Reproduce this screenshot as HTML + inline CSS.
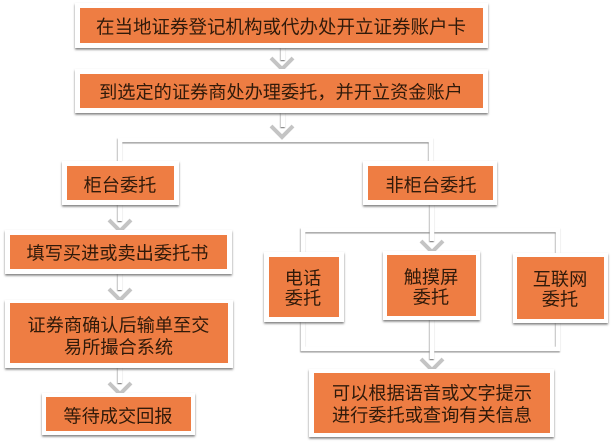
<!DOCTYPE html>
<html><head><meta charset="utf-8"><style>
html,body{margin:0;padding:0;background:#fff;width:614px;height:446px;overflow:hidden}
svg{display:block;position:absolute;left:0;top:0;filter:blur(.3px)}
.b{fill:#ee7d43}
.o{fill:#fff;filter:url(#s)}
text{font-family:"Liberation Sans","WenQuanYi Zen Hei","Noto Sans CJK SC",sans-serif;font-size:18.2px;fill:#301a0a;text-anchor:middle}
</style></head><body>
<svg width="614" height="446" viewBox="0 0 614 446" xmlns="http://www.w3.org/2000/svg">
<defs>
<filter id="s" x="-10%" y="-20%" width="120%" height="140%"><feDropShadow dx="0" dy="1.6" stdDeviation="1.1" flood-color="#666" flood-opacity=".85"/></filter>
<filter id="s2" x="0" y="0" width="614" height="446" filterUnits="userSpaceOnUse"><feDropShadow dx="-.4" dy="1" stdDeviation=".6" flood-color="#555" flood-opacity=".85"/></filter>
</defs>

<!-- connectors -->
<g fill="none" stroke="#fff" stroke-width="4.5" filter="url(#s2)">
<path d="M120 163V140H431V163"/>
<path d="M303 254V230H558V254"/>
<path d="M303 320V349H558V320"/>
</g>
<g fill="none" stroke="#fff" stroke-width="4.5" filter="url(#s2)">
<path d="M283 46V60M283 110V127M120 203V221M120 272V290M120 366V383M432 203V241M432 318V359"/>
</g>

<!-- chevrons -->
<path d="M271 58L282 69L293 58M271 126L282 137L293 126M109 220L120 231L131 220M109 289L120 300L131 289M109 383L120 394L131 383M421 241L432 252L443 241M421 359L432 370L443 359" fill="none" stroke="#c4c4c4" stroke-width="4"/>

<!-- outer white frames -->
<rect class="o" x="75" y="3" width="413" height="45"/>
<rect class="o" x="75" y="69" width="413" height="44"/>
<rect class="o" x="62" y="161" width="117" height="44"/>
<rect class="o" x="363" y="161" width="134" height="44"/>
<rect class="o" x="5" y="230" width="227" height="44"/>
<rect class="o" x="5" y="300" width="228" height="68"/>
<rect class="o" x="42" y="393" width="153" height="42"/>
<rect class="o" x="264" y="252" width="80" height="70"/>
<rect class="o" x="383" y="251" width="97" height="69"/>
<rect class="o" x="513" y="253" width="95" height="70"/>
<rect class="o" x="309" y="369" width="245" height="68"/>

<!-- orange fills -->
<rect class="b" x="80" y="8" width="403" height="35"/>
<rect class="b" x="80" y="74" width="403" height="34"/>
<rect class="b" x="67" y="166" width="107" height="34"/>
<rect class="b" x="368" y="166" width="125" height="34"/>
<rect class="b" x="10" y="235" width="217" height="34"/>
<rect class="b" x="10" y="303" width="218" height="60"/>
<rect class="b" x="46" y="397" width="145" height="34"/>
<rect class="b" x="269" y="257" width="70" height="60"/>
<rect class="b" x="387" y="255" width="89" height="61"/>
<rect class="b" x="517" y="257" width="87" height="62"/>
<rect class="b" x="314" y="373" width="236" height="60"/>

<!-- labels -->
<text x="281" y="33.5" style="font-size:18.5px">在当地证券登记机构或代办处开立证券账户卡</text>
<text x="281" y="98.5">到选定的证券商处办理委托，并开立资金账户</text>
<text x="120" y="191.5">柜台委托</text>
<text x="431" y="191.5">非柜台委托</text>
<text x="117.5" y="259.5">填写买进或卖出委托书</text>
<text x="118.5" y="331.5">证券商确认后输单至交</text>
<text x="118.5" y="353.5">易所撮合系统</text>
<text x="118" y="422.5">等待成交回报</text>
<text x="303" y="284.5">电话</text>
<text x="303" y="304.5">委托</text>
<text x="431" y="283.5">触摸屏</text>
<text x="431" y="303.5">委托</text>
<text x="560" y="285.5">互联网</text>
<text x="560" y="305.5">委托</text>
<text x="432" y="399.5">可以根据语音或文字提示</text>
<text x="432" y="421.5">进行委托或查询有关信息</text>
</svg>
</body></html>
